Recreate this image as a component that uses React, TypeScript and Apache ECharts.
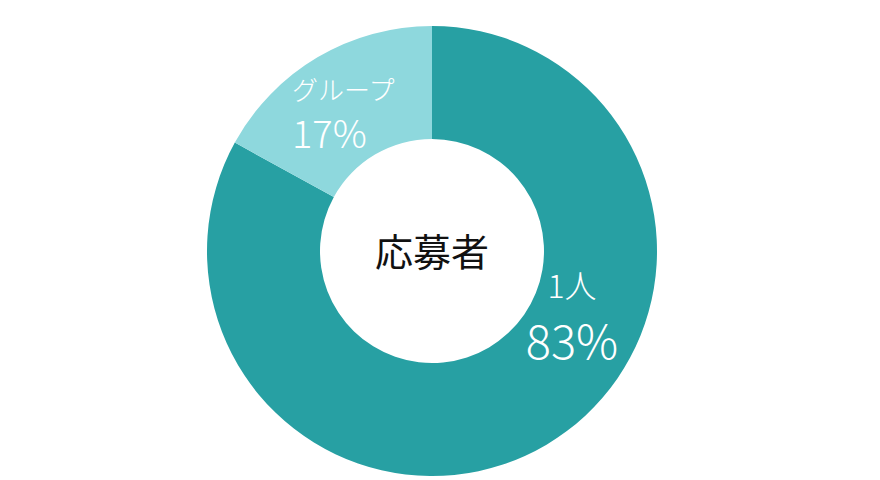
import { useEffect, useRef } from 'react'
import * as echarts from 'echarts'

const CATEGORIES = ['1人', 'グループ']
const VALUES = [83, 17]
const COLORS = ['#27a0a3', '#8ed8dd']
const CENTER_TEXT = '応募者'

const FONT = "'Noto Sans CJK JP', 'Noto Sans', sans-serif"

export default function App() {
  const elRef = useRef<HTMLDivElement>(null)

  useEffect(() => {
    document.body.style.margin = '0'
    if (!elRef.current) return
    const chart = echarts.init(elRef.current, null, { renderer: 'svg' })

    // ラベル位置はスライスごとに手で合わせる
    const labelPos = [
      { x: 572, y: 313, align: 'center' },
      { x: 292, y: 111, align: 'left' },
    ]

    chart.setOption({
      animation: false,
      backgroundColor: '#ffffff',
      graphic: [
        {
          type: 'text',
          x: 432,
          y: 249,
          style: {
            text: CENTER_TEXT,
            fontSize: 38,
            fontFamily: FONT,
            fill: '#111',
            align: 'center',
            verticalAlign: 'middle',
          },
        },
      ],
      series: [
        {
          type: 'pie',
          center: [432, 251],
          radius: [112, 225],
          startAngle: 90,
          clockwise: true,
          silent: true,
          label: {
            show: true,
            position: 'inside',
            color: '#fff',
            fontFamily: FONT,
            formatter: (p: any) =>
              p.dataIndex === 0 ? `{a0|${p.name}}\n{b0|${p.value}%}` : `{a1|${p.name}}\n{b1|${p.value}%}`,
            rich: {
              a0: { fontSize: 32, lineHeight: 50, color: '#fff', fontFamily: FONT, fontWeight: 300 },
              b0: { fontSize: 47, lineHeight: 58, color: '#fff', fontFamily: FONT, fontWeight: 300 },
              a1: { fontSize: 26, lineHeight: 40, color: '#fff', fontFamily: FONT, fontWeight: 300 },
              b1: { fontSize: 38, lineHeight: 46, color: '#fff', fontFamily: FONT, fontWeight: 300 },
            },
          },
          labelLine: { show: false },
          labelLayout: (params: any) => {
            const pos = labelPos[params.dataIndex]
            return { x: pos.x, y: pos.y, align: pos.align, verticalAlign: 'middle' }
          },
          data: CATEGORIES.map((name, i) => ({
            name,
            value: VALUES[i],
            itemStyle: { color: COLORS[i] },
          })),
        },
      ],
    })

    return () => chart.dispose()
  }, [])

  return <div ref={elRef} style={{ width: 880, height: 480 }} />
}
